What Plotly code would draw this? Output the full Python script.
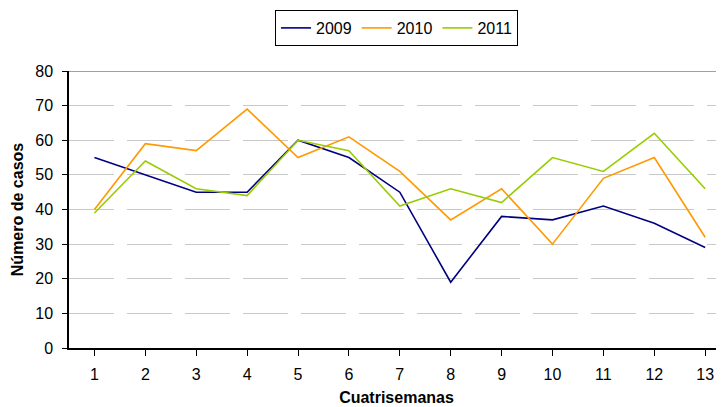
import plotly.graph_objects as go

categories = list(range(1, 14))
tick_labels = [str(c) for c in categories]
y2009 = [55, 50, 45, 45, 60, 55, 45, 19, 38, 37, 41, 36, 29]
y2010 = [40, 59, 57, 69, 55, 61, 51, 37, 46, 30, 49, 55, 32]
y2011 = [39, 54, 46, 44, 60, 57, 41, 46, 42, 55, 51, 62, 46]
series_names = ["2009", "2010", "2011"]
colors = ["#000080", "#FF9900", "#99CC00"]

fig = go.Figure()
for name, ys, col in zip(series_names, [y2009, y2010, y2011], colors):
    fig.add_trace(go.Scatter(x=categories, y=ys, mode="lines", name=name,
                             line=dict(color=col, width=1.6)))

font = "Liberation Sans, Arial, sans-serif"
# page body has an 8px margin, so the figure is offset by 8px
fig.update_layout(
    width=716, height=399,
    margin=dict(l=61, r=0, t=63, b=59, autoexpand=False),
    paper_bgcolor="white", plot_bgcolor="white",
    font=dict(family=font, size=16, color="black"),
    showlegend=True,
    legend=dict(orientation="h", x=0.5, xanchor="center", xref="paper",
                y=0.995, yref="container", yanchor="top",
                bordercolor="black", borderwidth=1,
                font=dict(size=16), itemwidth=30, tracegroupgap=0),
    xaxis=dict(range=[0.5, 13.37], tickmode="array", tickvals=categories,
               ticktext=tick_labels, showgrid=False, showline=True,
               linecolor="black", linewidth=1.5, ticks="outside", ticklen=6,
               tickson="boundaries", automargin=False,
               tickcolor="black", zeroline=False, ticklabelstandoff=5,
               title=dict(text="<b>Cuatrisemanas</b>", font=dict(size=16), standoff=10)),
    yaxis=dict(range=[0, 80], dtick=10, showgrid=True, gridcolor="#C8C8C8",
               griddash="45px,13px", gridwidth=1, showline=True,
               linecolor="black", linewidth=1.5, ticks="outside", ticklen=5,
               tickcolor="black", zeroline=False, automargin=False,
               ticklabelstandoff=6,
               title=dict(text="<b>Número de casos</b>", font=dict(size=16), standoff=8)),
)
fig.add_shape(type="line", xref="paper", yref="y", x0=0, x1=1, y0=80, y1=80,
              line=dict(color="#808080", width=1.5))
fig.write_html("out.html")
